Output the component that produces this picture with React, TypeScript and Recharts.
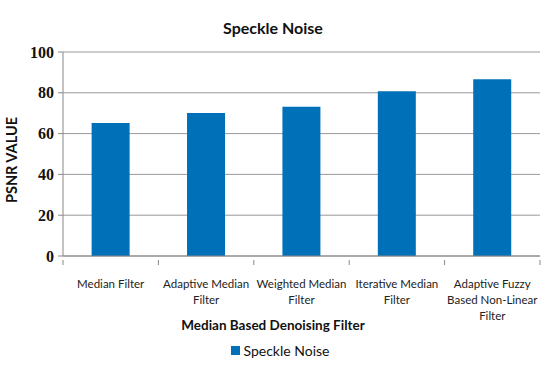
import React from "react";
import { BarChart, Bar, XAxis, YAxis, CartesianGrid, Legend, Customized } from "recharts";

const categories = [
  "Median Filter",
  "Adaptive Median|Filter",
  "Weighted Median|Filter",
  "Iterative Median|Filter",
  "Adaptive Fuzzy|Based Non-Linear|Filter",
];
const speckleValues = [65.2, 70.1, 73.2, 80.8, 86.6];
const yTicks = [0, 20, 40, 60, 80, 100];
const seriesName = "Speckle Noise";
const chartTitle = "Speckle Noise";
const xTitle = "Median Based Denoising Filter";
const yTitle = "PSNR VALUE";

const data = categories.map((c, i) => ({ name: c, value: speckleValues[i] }));

const BLUE = "#0070B8";
const SANS = "Lato, 'Open Sans', sans-serif";
const SERIF = "'Liberation Serif', 'DejaVu Serif', serif";

const XTick = (props: any) => {
  const { x, y, payload, index, visibleTicksCount, width } = props;
  const band = width / (visibleTicksCount || categories.length);
  const lines = String(payload.value).split("|");
  const left = x - band / 2;
  const right = x + band / 2;
  return (
    <g>
      <line x1={left} x2={left} y1={y - 4} y2={y + 1} stroke="#888" />
      {index === categories.length - 1 && (
        <line x1={right} x2={right} y1={y - 4} y2={y + 1} stroke="#888" />
      )}
      {lines.map((l: string, i: number) => (
        <text
          key={i}
          x={x}
          y={y + 24 + i * 16}
          textAnchor="middle"
          fontSize={11.5}
          fontFamily={SANS}
          fill="#222"
        >
          {l}
        </text>
      ))}
    </g>
  );
};

const YTick = (props: any) => {
  const { x, y, payload } = props;
  return (
    <text
      x={x - 2}
      y={y}
      textAnchor="end"
      dominantBaseline="central"
      fontSize={16}
      fontWeight="bold"
      fontFamily={SERIF}
      fill="#111"
    >
      {payload.value}
    </text>
  );
};

const Titles = () => (
  <g>
    <text x={273} y={34} textAnchor="middle" fontSize={16} fontWeight="bold" fontFamily={SANS} fill="#111">
      {chartTitle}
    </text>
    <text x={273} y={330} textAnchor="middle" fontSize={13.5} fontWeight="bold" fontFamily={SANS} fill="#111">
      {xTitle}
    </text>
    <text
      x={11}
      y={160}
      textAnchor="middle"
      fontSize={14.5}
      fontWeight="bold"
      fontFamily={SANS}
      fill="#111"
      transform="rotate(-90 11 160)"
      dominantBaseline="central"
    >
      {yTitle}
    </text>
  </g>
);

const LegendContent = () => (
  <div style={{ display: "flex", justifyContent: "center", alignItems: "center", fontFamily: SANS, fontSize: 14, color: "#111" }}>
    <span style={{ display: "inline-block", width: 9, height: 9, background: BLUE, marginRight: 4 }} />
    <span>{seriesName}</span>
  </div>
);

export default function App() {
  return (
    <div style={{ position: "absolute", left: 0, top: 0, width: 560, height: 376, background: "#fff" }}>
      <BarChart
        width={560}
        height={376}
        data={data}
        margin={{ top: 52, right: 20, bottom: 0, left: 0 }}
        barCategoryGap="30%"
      >
        <CartesianGrid vertical={false} stroke="#999" strokeWidth={1} />
        <XAxis
          dataKey="name"
          height={120}
          interval={0}
          axisLine={{ stroke: "#888" }}
          tickLine={false}
          tick={<XTick />}
        />
        <YAxis
          width={63}
          domain={[0, 100]}
          ticks={yTicks}
          axisLine={{ stroke: "#888" }}
          tickLine={{ stroke: "#888" }}
          tickSize={5}
          tick={<YTick />}
        />
        <Bar dataKey="value" name={seriesName} fill={BLUE} isAnimationActive={false} />
        <Legend
          verticalAlign="middle"
          layout="horizontal"
          content={<LegendContent />}
          wrapperStyle={{ top: 342, left: 0, width: 560 }}
        />
        <Customized component={Titles} />
      </BarChart>
    </div>
  );
}
